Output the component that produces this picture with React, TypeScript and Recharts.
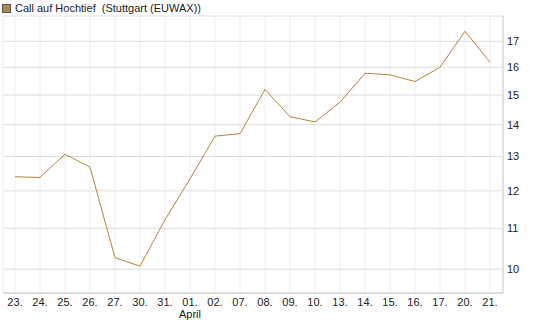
import React from 'react';
import { LineChart, Line, XAxis, YAxis, CartesianGrid } from 'recharts';

const categories = ['23.', '24.', '25.', '26.', '27.', '30.', '31.', '01.', '02.', '07.', '08.', '09.', '10.', '13.', '14.', '15.', '16.', '17.', '20.', '21.'];
const prices = [12.40, 12.38, 13.07, 12.68, 10.27, 10.07, 11.22, 12.34, 13.63, 13.71, 15.2, 14.26, 14.09, 14.75, 15.78, 15.72, 15.48, 16.0, 17.4, 16.19];
const yTicks = [10, 11, 12, 13, 14, 15, 16, 17];
const monthLabels: Record<string, string> = { '01.': 'April' };
const yDomain = [9.46, 18.03];
const seriesName = 'Call auf Hochtief  (Stuttgart (EUWAX))';

const data = categories.map((c, i) => ({ date: c, price: prices[i] }));

const FONT = '"Liberation Sans", Arial, sans-serif';

const XTick = (props: any) => {
  const { x, y, payload } = props;
  const month = monthLabels[payload.value];
  return (
    <g>
      <text x={x} y={y + 13} textAnchor="middle" fontSize={11} fontFamily={FONT} fill="#222">
        {payload.value}
      </text>
      {month ? (
        <text x={x} y={y + 25} textAnchor="middle" fontSize={11} fontFamily={FONT} fill="#222">
          {month}
        </text>
      ) : null}
    </g>
  );
};

const YTick = (props: any) => {
  const { x, y, payload } = props;
  return (
    <text x={x + 4} y={y + 4} textAnchor="start" fontSize={11} fontFamily={FONT} fill="#222">
      {payload.value}
    </text>
  );
};

export default function App() {
  return (
    <div style={{ position: 'absolute', left: 0, top: 0, width: 545, height: 327, background: '#fff' }}>
      <div
        style={{
          position: 'absolute',
          left: 2,
          top: 2,
          display: 'flex',
          alignItems: 'center',
          fontFamily: FONT,
          fontSize: 11,
          color: '#222',
          whiteSpace: 'pre',
        }}
      >
        <span
          style={{
            display: 'inline-block',
            width: 7,
            height: 7,
            background: '#b08850',
            border: '1px solid #555',
            marginRight: 4,
          }}
        />
        <span>{seriesName}</span>
      </div>
      <LineChart width={545} height={327} data={data} margin={{ top: 16, right: 0, bottom: 0, left: 3 }}>
        <CartesianGrid horizontal={false} vertical stroke="#eeeeee" />
        <CartesianGrid horizontal vertical={false} stroke="#dddddd" />
        <XAxis
          dataKey="date"
          height={34}
          padding={{ left: 12, right: 13 }}
          tickLine={false}
          tickSize={0}
          tickMargin={0}
          axisLine={{ stroke: '#cccccc' }}
          tick={<XTick />}
          interval={0}
        />
        <XAxis
          xAxisId="top"
          dataKey="date"
          orientation="top"
          height={0}
          tick={false}
          tickLine={false}
          axisLine={{ stroke: '#cccccc' }}
        />
        <YAxis
          orientation="right"
          width={42}
          scale="log"
          type="number"
          domain={yDomain}
          allowDataOverflow
          ticks={yTicks}
          tickLine={false}
          tickSize={0}
          tickMargin={0}
          axisLine={{ stroke: '#cccccc' }}
          tick={<YTick />}
          interval={0}
        />
        <YAxis
          yAxisId="left"
          orientation="left"
          width={0}
          type="number"
          domain={[0, 1]}
          tick={false}
          tickLine={false}
          axisLine={{ stroke: '#cccccc' }}
        />
        <Line
          dataKey="price"
          stroke="#b3833b"
          strokeWidth={1}
          dot={false}
          activeDot={false}
          isAnimationActive={false}
        />
      </LineChart>
    </div>
  );
}
